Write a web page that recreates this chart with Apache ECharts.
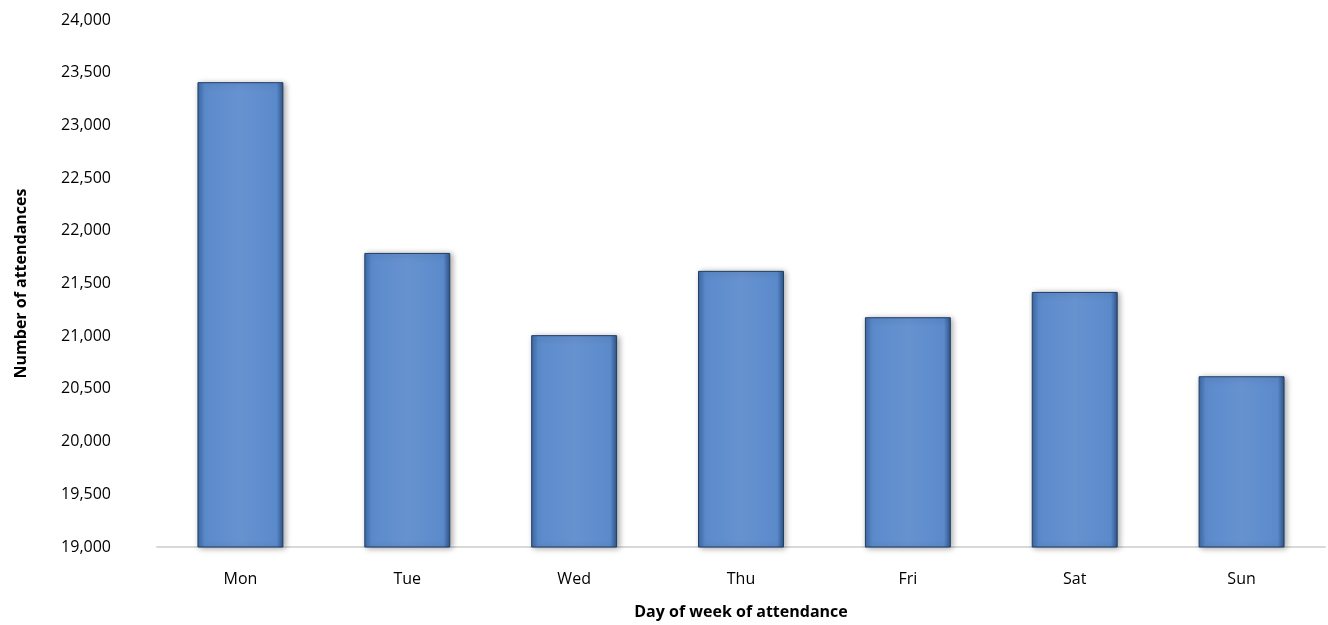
<!DOCTYPE html>
<html>
<head>
<meta charset="utf-8">
<script src="https://cdn.jsdelivr.net/npm/echarts@6/dist/echarts.min.js"></script>
<style>
  html, body { margin: 0; padding: 0; background: #fff; }
  #chart { width: 1328px; height: 625px; }
</style>
</head>
<body>
<div id="chart"></div>
<script>
(function () {
  var days = ['Mon', 'Tue', 'Wed', 'Thu', 'Fri', 'Sat', 'Sun'];
  var attendances = [23410, 21790, 21010, 21620, 21180, 21420, 20620];
  var yTicks = { min: 19000, max: 24000, step: 500 };

  var myChart = echarts.init(document.getElementById('chart'));
  var font = 'Open Sans, Liberation Sans, sans-serif';

  var option = {
    animation: false,
    grid: {
      left: 157,
      right: 3,
      top: 20,
      bottom: 76
    },
    xAxis: {
      type: 'category',
      data: days,
      name: 'Day of week of attendance',
      nameLocation: 'middle',
      nameGap: 57,
      nameTextStyle: { fontFamily: font, fontSize: 16, fontWeight: 'bold', color: '#000' },
      axisTick: { show: false },
      axisLine: { lineStyle: { color: '#d9d9d9', width: 2 } },
      axisLabel: { fontFamily: font, fontSize: 16, color: '#000', margin: 24 }
    },
    yAxis: {
      type: 'value',
      min: yTicks.min,
      max: yTicks.max,
      interval: yTicks.step,
      name: 'Number of attendances',
      nameLocation: 'middle',
      nameGap: 128,
      nameTextStyle: { fontFamily: font, fontSize: 16, fontWeight: 'bold', color: '#000' },
      axisLine: { show: false },
      axisTick: { show: false },
      splitLine: { show: false },
      axisLabel: {
        fontFamily: font, fontSize: 16, color: '#000', margin: 46,
        formatter: function (v) { return v.toLocaleString('en-US'); }
      }
    },
    series: [{
      type: 'bar',
      data: attendances,
      barWidth: '51.5%',
      itemStyle: {
        color: new echarts.graphic.LinearGradient(0, 0, 1, 0, [
          { offset: 0, color: '#3d6aa5' },
          { offset: 0.08, color: '#5b8acb' },
          { offset: 0.5, color: '#6792d0' },
          { offset: 0.92, color: '#5b8acb' },
          { offset: 1, color: '#2e5588' }
        ]),
        borderColor: '#1f3d66',
        borderWidth: 1,
        shadowColor: 'rgba(0,0,0,0.35)',
        shadowBlur: 6,
        shadowOffsetX: 2,
        shadowOffsetY: 1
      }
    }]
  };

  myChart.setOption(option);
  window.addEventListener('resize', function () {
    myChart.resize();
  });
})();
</script>
</body>
</html>
